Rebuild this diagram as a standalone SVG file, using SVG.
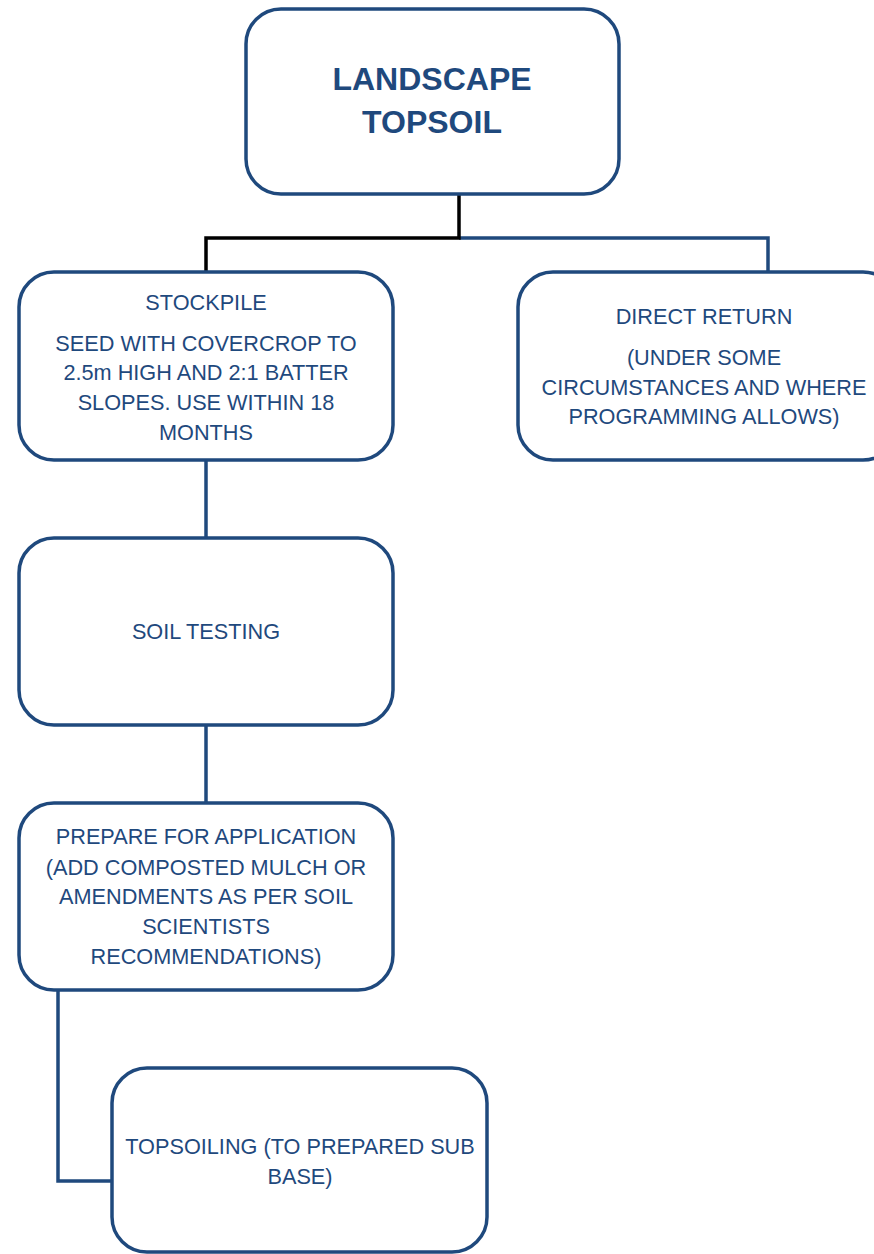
<svg xmlns="http://www.w3.org/2000/svg" width="874" height="1254" viewBox="0 0 874 1254">
<style>
.box{fill:#fff;stroke:#1F497D;stroke-width:3.5}
.t{font-family:"Liberation Sans",Arial,sans-serif;font-size:21.7px;fill:#1F497D;text-anchor:middle}
.title{font-family:"Liberation Sans",Arial,sans-serif;font-size:32px;font-weight:bold;fill:#1F497D;text-anchor:middle}
.c{fill:none;stroke-width:3.5;stroke-linejoin:miter}
</style>
<rect width="874" height="1254" fill="#fff"/>
<g id="connectors">
<path class="c" stroke="#1F497D" d="M459 238 H768 V272"/>
<path class="c" stroke="#000" d="M459 194 V238 H206 V272"/>
<path class="c" stroke="#1F497D" d="M206 460 V538"/>
<path class="c" stroke="#1F497D" d="M206 725 V803"/>
<path class="c" stroke="#1F497D" d="M58 990 V1181 H112"/>
</g>
<g id="landscape-topsoil">
<rect class="box" x="246" y="9" width="373" height="185" rx="35"/>
<text class="title" x="432" y="90">LANDSCAPE</text>
<text class="title" x="432" y="133">TOPSOIL</text>
</g>
<g id="stockpile">
<rect class="box" x="19" y="272" width="374" height="188" rx="35"/>
<text class="t" x="206" y="310">STOCKPILE</text>
<text class="t" x="206" y="351">SEED WITH COVERCROP TO</text>
<text class="t" x="206" y="380">2.5m HIGH AND 2:1 BATTER</text>
<text class="t" x="206" y="410">SLOPES. USE WITHIN 18</text>
<text class="t" x="206" y="440">MONTHS</text>
</g>
<g id="direct-return">
<rect class="box" x="518" y="272" width="380" height="188" rx="35"/>
<text class="t" x="704" y="324">DIRECT RETURN</text>
<text class="t" x="704" y="365">(UNDER SOME</text>
<text class="t" x="704" y="395">CIRCUMSTANCES AND WHERE</text>
<text class="t" x="704" y="424">PROGRAMMING ALLOWS)</text>
</g>
<g id="soil-testing">
<rect class="box" x="19" y="538" width="374" height="187" rx="35"/>
<text class="t" x="206" y="639">SOIL TESTING</text>
</g>
<g id="prepare">
<rect class="box" x="19" y="803" width="374" height="187" rx="35"/>
<text class="t" x="206" y="844">PREPARE FOR APPLICATION</text>
<text class="t" x="206" y="875">(ADD COMPOSTED MULCH OR</text>
<text class="t" x="206" y="904">AMENDMENTS AS PER SOIL</text>
<text class="t" x="206" y="934">SCIENTISTS</text>
<text class="t" x="206" y="964">RECOMMENDATIONS)</text>
</g>
<g id="topsoiling">
<rect class="box" x="112" y="1068" width="375" height="184" rx="35"/>
<text class="t" x="300" y="1154">TOPSOILING (TO PREPARED SUB</text>
<text class="t" x="300" y="1184">BASE)</text>
</g>
</svg>
